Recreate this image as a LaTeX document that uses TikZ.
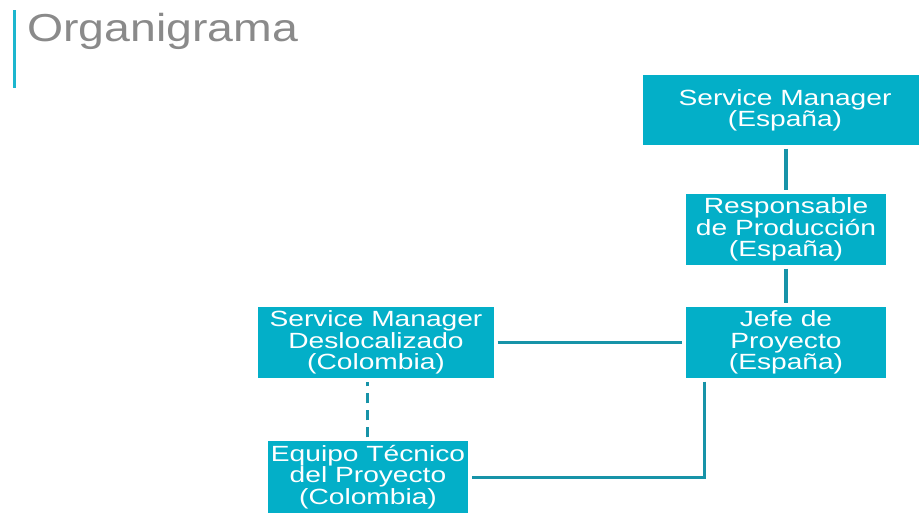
\documentclass[tikz,border=0pt]{standalone}
\usepackage{fontspec}
\newfontfamily\boxfont[FakeStretch=1.28]{Liberation Sans}
\newfontfamily\titlefont[FakeStretch=1.19]{Liberation Sans}
\definecolor{boxteal}{HTML}{03AFC8}
\definecolor{linkteal}{HTML}{1793A8}
\definecolor{accent}{HTML}{1CB6CE}
\definecolor{titlegray}{HTML}{8A8A8A}
\tikzset{
  unit/.style={fill=boxteal, text=white, inner sep=0pt, align=center,
    font=\boxfont\fontsize{22}{21.3}\selectfont},
  link/.style={draw=linkteal, line width=3pt, shorten <=3.5pt, shorten >=3.5pt},
  mainlink/.style={link, line width=4pt},
  dottedlink/.style={link, dash pattern=on 10pt off 7pt}
}
\begin{document}
\begin{tikzpicture}[x=1pt, y=-1pt]
\useasboundingbox (0,0) rectangle (919,512);

% heading
\draw[accent, line width=3pt] (14,10) -- (14,88);
\node[anchor=base west, inner sep=0pt, text=titlegray,
      font=\titlefont\fontsize{39}{39}\selectfont] (title) at (27,41) {Organigrama};

% org units
\node[unit, minimum width=284pt, minimum height=70pt] (sm)   at (785,110)   {Service Manager\\(España)};
\node[unit, minimum width=200pt, minimum height=71pt] (resp) at (786,229.5) {Responsable\\de Producción\\(España)};
\node[unit, minimum width=200pt, minimum height=71pt] (jefe) at (786,342.5) {Jefe de\\Proyecto\\(España)};
\node[unit, minimum width=236pt, minimum height=71pt] (desl) at (376,342.5) {Service Manager\\Deslocalizado\\(Colombia)};
\node[unit, minimum width=200pt, minimum height=72pt] (team) at (368,477)   {Equipo Técnico\\del Proyecto\\(Colombia)};

% reporting lines
\draw[mainlink] (sm.south -| resp.north) -- (resp.north);
\draw[mainlink] (resp.south) -- (jefe.north);
\draw[link] (desl.east) -- (jefe.west);
\draw[link] ([xshift=19pt]jefe.south west) |- (team.east);
\draw[dottedlink] (team.north -| 367,0) -- (desl.south -| 367,0);
\end{tikzpicture}
\end{document}
